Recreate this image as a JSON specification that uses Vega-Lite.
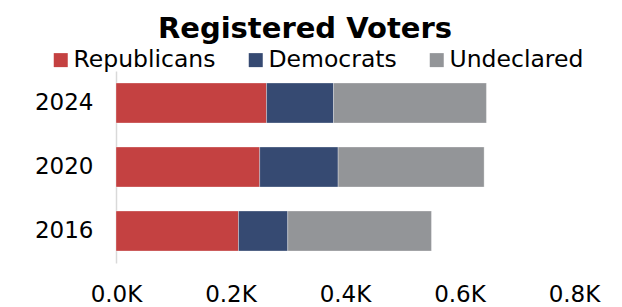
{
  "$schema": "https://vega.github.io/schema/vega-lite/v6.json",
  "width": 458,
  "height": 192,
  "autosize": {"type": "none"},
  "padding": {"left": 116, "top": 71, "right": 48, "bottom": 44},
  "title": {"text": "Registered Voters", "font": "DejaVu Sans", "fontSize": 29, "fontWeight": "bold", "color": "#000000", "anchor": "middle", "dx": -40},
  "data": {"values": [
    {"year": "2024", "party": "Republicans", "o": 1, "count": 263},
    {"year": "2024", "party": "Democrats", "o": 2, "count": 117},
    {"year": "2024", "party": "Undeclared", "o": 3, "count": 267},
    {"year": "2020", "party": "Republicans", "o": 1, "count": 251},
    {"year": "2020", "party": "Democrats", "o": 2, "count": 137},
    {"year": "2020", "party": "Undeclared", "o": 3, "count": 255},
    {"year": "2016", "party": "Republicans", "o": 1, "count": 214},
    {"year": "2016", "party": "Democrats", "o": 2, "count": 86},
    {"year": "2016", "party": "Undeclared", "o": 3, "count": 251}
  ]},
  "mark": {"type": "bar", "stroke": "#ffffff", "strokeWidth": 0.5, "strokeOpacity": 0.6},
  "encoding": {
    "y": {"field": "year", "type": "nominal", "sort": "descending",
      "scale": {"paddingInner": 0.375, "paddingOuter": 0.1875},
      "axis": {"title": null, "ticks": false, "domain": true, "domainColor": "#d9d9d9", "domainWidth": 1.5, "labelFont": "DejaVu Sans", "labelFontSize": 23, "labelColor": "#000000", "labelPadding": 23, "grid": false}},
    "x": {"field": "count", "type": "quantitative", "stack": "zero",
      "scale": {"domain": [0, 800], "nice": false},
      "axis": {"title": null, "values": [0, 200, 400, 600, 800], "labelExpr": "format(datum.value/1000, '.1f') + 'K'", "ticks": false, "domain": false, "grid": false, "labelFont": "DejaVu Sans", "labelFontSize": 23, "labelColor": "#000000", "labelPadding": 20, "labelFlush": false}},
    "color": {"field": "party", "type": "nominal",
      "scale": {"domain": ["Republicans", "Democrats", "Undeclared"], "range": ["#C44141", "#364A72", "#939598"]},
      "legend": {"title": null, "orient": "none", "direction": "horizontal", "legendX": -67, "legendY": -23, "symbolType": "square", "symbolSize": 196, "symbolStrokeWidth": 0, "symbolOpacity": 1, "labelFont": "DejaVu Sans", "labelFontSize": 23.5, "labelColor": "#000000", "labelOffset": 1, "columnPadding": 28, "padding": 0, "labelLimit": 300}},
    "order": {"field": "o", "type": "quantitative"}
  },
  "config": {"view": {"stroke": null}, "background": "#ffffff"}
}
